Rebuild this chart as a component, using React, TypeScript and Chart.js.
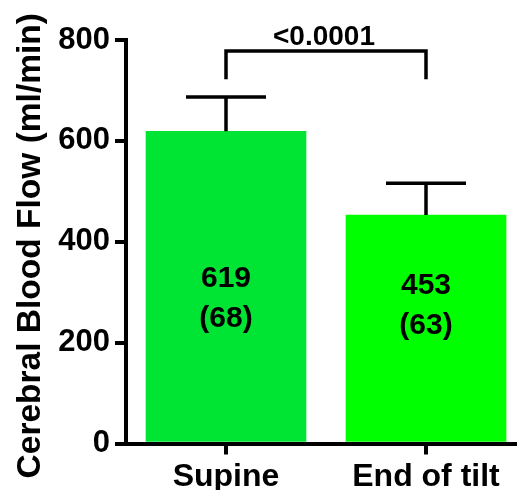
import React, { useEffect, useRef } from "react";
import { Chart, registerables } from "chart.js";

Chart.register(...registerables);

// ---- data ----
const categories = ["Supine", "End of tilt"];
const means = [619, 453];
const sds = [68, 63];
const barColors = ["#00E433", "#00FF00"];
const labelAnchors = [287, 273]; // value-level where the "mean (SD)" text block is centred
const yMin = 0;
const yMax = 800;
const yStep = 200;
const pValueText = "<0.0001";
const bracketTop = 778;
const bracketLegBottom = 722;
const pTextAt = 806;
const yTitle = "Cerebral Blood Flow (ml/min)";

const FONT = "Arial, 'Liberation Sans', Helvetica, sans-serif";

const overlay = {
  id: "overlay",
  afterDatasetsDraw(chart: any) {
    const { ctx, scales } = chart;
    const x = scales.x;
    const y = scales.y;
    const meta = chart.getDatasetMeta(0);
    ctx.save();
    ctx.strokeStyle = "#000";
    ctx.fillStyle = "#000";
    ctx.lineWidth = 3.5;
    ctx.lineCap = "butt";
    ctx.lineJoin = "miter";
    meta.data.forEach((bar: any, i: number) => {
      const cx = x.getPixelForValue(i + 1);
      const yTop = y.getPixelForValue(means[i]);
      const yErr = y.getPixelForValue(means[i] + sds[i]);
      const half = bar.width / 4;
      ctx.beginPath();
      ctx.moveTo(cx, yTop);
      ctx.lineTo(cx, yErr);
      ctx.moveTo(cx - half, yErr);
      ctx.lineTo(cx + half, yErr);
      ctx.stroke();
      ctx.font = `bold 30px ${FONT}`;
      ctx.textAlign = "center";
      ctx.textBaseline = "middle";
      const ly = y.getPixelForValue(labelAnchors[i]);
      ctx.fillText(String(means[i]), cx, ly - 20);
      ctx.fillText(`(${sds[i]})`, cx, ly + 20);
    });
    const x1 = x.getPixelForValue(1);
    const x2 = x.getPixelForValue(2);
    const yb = y.getPixelForValue(bracketTop);
    const yl = y.getPixelForValue(bracketLegBottom);
    ctx.beginPath();
    ctx.moveTo(x1, yl);
    ctx.lineTo(x1, yb);
    ctx.lineTo(x2, yb);
    ctx.lineTo(x2, yl);
    ctx.stroke();
    ctx.font = `bold 28px ${FONT}`;
    ctx.textAlign = "center";
    ctx.textBaseline = "middle";
    ctx.fillText(pValueText, (x1 + x2) / 2 - 2, y.getPixelForValue(pTextAt));

    // y-axis title
    const area = chart.chartArea;
    ctx.translate(31, (area.top + area.bottom) / 2 + 4);
    ctx.rotate(-Math.PI / 2);
    ctx.font = `bold 33.5px ${FONT}`;
    ctx.textAlign = "center";
    ctx.textBaseline = "middle";
    ctx.fillText(yTitle, 0, 0);
    ctx.restore();
  },
};

export default function App() {
  const ref = useRef<HTMLCanvasElement | null>(null);

  useEffect(() => {
    if (!ref.current) return;
    const chart = new Chart(ref.current, {
      type: "bar",
      data: {
        datasets: [
          {
            data: means.map((m, i) => ({ x: i + 1, y: m })),
            backgroundColor: barColors,
            borderWidth: 0,
            barThickness: 160,
          } as any,
        ],
      },
      options: {
        responsive: false,
        animation: false,
        devicePixelRatio: 1,
        layout: { padding: { top: 40, left: 0, right: 0, bottom: 0 } },
        plugins: {
          legend: { display: false },
          tooltip: { enabled: false },
        },
        scales: {
          x: {
            type: "linear",
            offset: false,
            min: 0.5,
            max: 2.455,
            afterBuildTicks: (s: any) => {
              s.ticks = categories.map((_, i) => ({ value: i + 1 }));
            },
            afterFit: (s: any) => {
              s.height = 46.5;
              s.paddingLeft = 0;
              s.paddingRight = 0;
            },
            ticks: {
              color: "#000",
              font: { family: FONT, size: 32, weight: "bold" },
              padding: 3,
              maxRotation: 0,
              autoSkip: false,
              callback: (v: any) => categories[Number(v) - 1] ?? "",
            },
            grid: {
              offset: false,
              drawOnChartArea: false,
              drawTicks: true,
              tickLength: 11,
              lineWidth: 4,
              color: "#000",
            },
            border: { display: true, color: "#000", width: 4 },
          },
          y: {
            type: "linear",
            min: yMin,
            max: yMax,
            afterFit: (s: any) => {
              s.width = 126;
            },
            ticks: {
              stepSize: yStep,
              color: "#000",
              font: { family: FONT, size: 31, weight: "bold" },
              padding: 5,
            },
            grid: {
              drawOnChartArea: false,
              drawTicks: true,
              tickLength: 11,
              lineWidth: 4,
              color: "#000",
            },
            border: { display: true, color: "#000", width: 4 },
            title: { display: false, text: yTitle },
          },
        },
      } as any,
      plugins: [overlay],
    });
    return () => chart.destroy();
  }, []);

  return (
    <div
      style={{
        position: "fixed",
        left: 0,
        top: 0,
        width: 517,
        height: 490,
        background: "#fff",
      }}
    >
      <canvas ref={ref} width={517} height={490} style={{ display: "block" }} />
    </div>
  );
}
